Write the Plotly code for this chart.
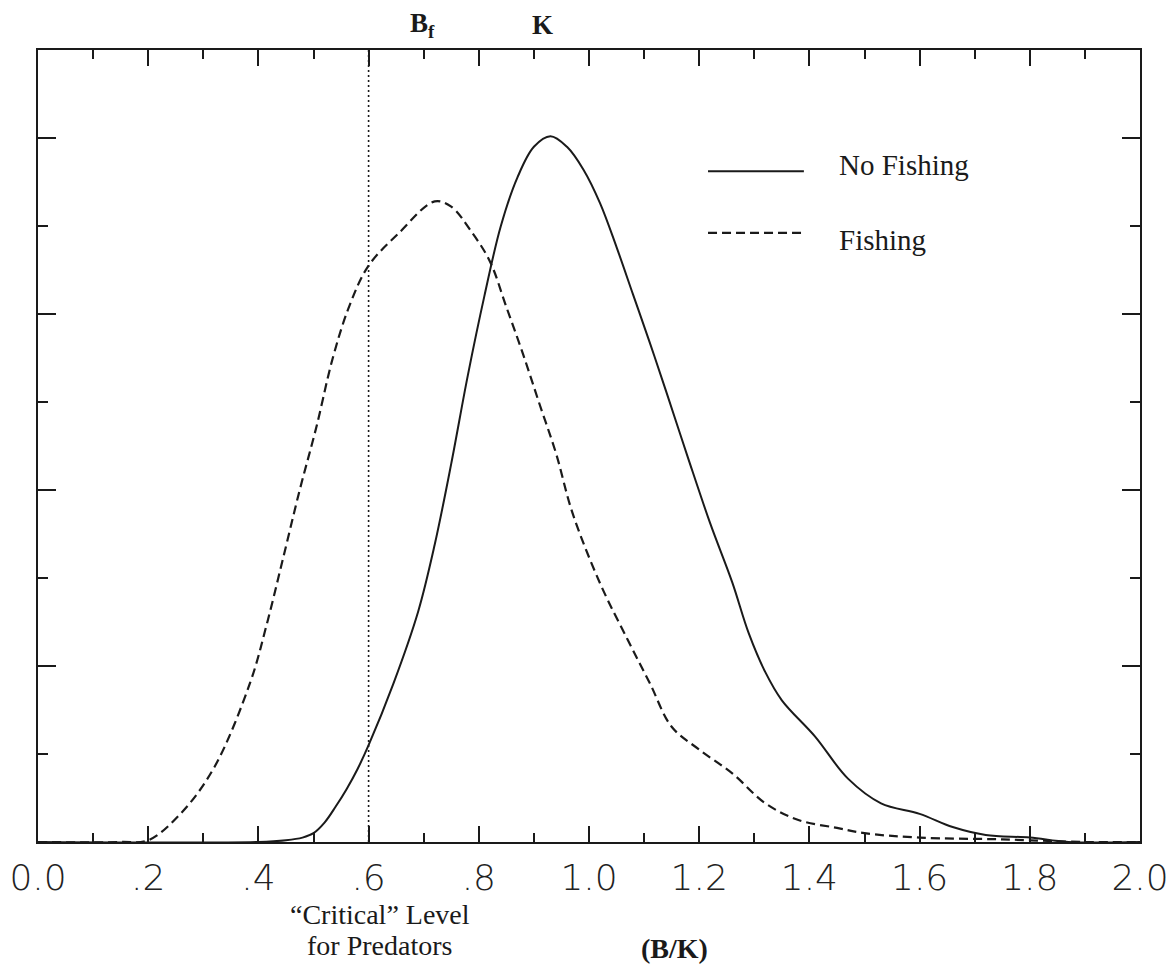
import plotly.graph_objects as go

# ---- data ----
no_fishing_x = [0.0, 0.40, 0.45, 0.48, 0.50, 0.52, 0.54, 0.56, 0.58, 0.60, 0.645, 0.69, 0.72,
                0.75, 0.78, 0.81, 0.84, 0.87, 0.90, 0.93, 0.96, 0.99, 1.02, 1.05, 1.08, 1.11,
                1.14, 1.18, 1.22, 1.26, 1.29, 1.32, 1.35, 1.41, 1.47, 1.53, 1.60, 1.66, 1.72,
                1.80, 1.87, 2.0]
no_fishing_y = [0.0, 0.0, 0.02, 0.05, 0.10, 0.22, 0.40, 0.60, 0.83, 1.10, 1.80, 2.62, 3.38,
                4.30, 5.30, 6.20, 7.00, 7.55, 7.90, 8.02, 7.90, 7.64, 7.26, 6.76, 6.22, 5.68,
                5.12, 4.36, 3.62, 2.95, 2.37, 1.93, 1.61, 1.20, 0.72, 0.44, 0.32, 0.17, 0.08,
                0.05, 0.0, 0.0]

fishing_x = [0.0, 0.15, 0.20, 0.26, 0.32, 0.385, 0.415, 0.445, 0.475, 0.505, 0.535, 0.565,
             0.60, 0.655, 0.72, 0.75, 0.785, 0.82, 0.85, 0.88, 0.91, 0.94, 0.97, 1.02, 1.07,
             1.11, 1.15, 1.20, 1.26, 1.32, 1.38, 1.45, 1.50, 1.60, 1.75, 1.90, 2.0]
fishing_y = [0.0, 0.0, 0.02, 0.33, 0.85, 1.81, 2.47, 3.23, 4.00, 4.71, 5.50, 6.09,
             6.55, 6.92, 7.28, 7.22, 6.95, 6.60, 6.08, 5.55, 4.98, 4.42, 3.74, 2.94, 2.30,
             1.81, 1.31, 1.05, 0.78, 0.44, 0.25, 0.16, 0.10, 0.05, 0.03, 0.0, 0.0]

x_tick_vals = [0.0, 0.2, 0.4, 0.6, 0.8, 1.0, 1.2, 1.4, 1.6, 1.8, 2.0]
x_tick_text = ["0.0", ".2", ".4", ".6", ".8", "1.0", "1.2", "1.4", "1.6", "1.8", "2.0"]

critical_level = 0.6
bf_pos = 0.698
k_pos = 0.916
series_names = ["No Fishing", "Fishing"]

INK = "#1a1a1a"
SERIF = "Liberation Serif, Times New Roman, serif"

fig = go.Figure()
fig.add_trace(go.Scatter(x=no_fishing_x, y=no_fishing_y, mode="lines", name=series_names[0],
                         line=dict(color=INK, width=2, shape="spline", smoothing=1.0)))
fig.add_trace(go.Scatter(x=fishing_x, y=fishing_y, mode="lines", name=series_names[1],
                         line=dict(color=INK, width=2.2, dash="9px,5px", shape="spline", smoothing=1.0)))

# critical level dotted line
fig.add_shape(type="line", xref="x", yref="paper", x0=critical_level, x1=critical_level,
              y0=0, y1=1, line=dict(color=INK, width=1.6, dash="2px,3px"))

# manual legend
fig.add_shape(type="line", xref="paper", yref="paper", x0=0.608, x1=0.695, y0=0.847, y1=0.847,
              line=dict(color=INK, width=2))
fig.add_shape(type="line", xref="paper", yref="paper", x0=0.608, x1=0.695, y0=0.769, y1=0.769,
              line=dict(color=INK, width=2.2, dash="9px,5px"))
fig.add_annotation(xref="paper", yref="paper", x=0.725, y=0.855, text=series_names[0],
                   showarrow=False, xanchor="left", yanchor="middle",
                   font=dict(family=SERIF, size=29, color=INK))
fig.add_annotation(xref="paper", yref="paper", x=0.725, y=0.760, text=series_names[1],
                   showarrow=False, xanchor="left", yanchor="middle",
                   font=dict(family=SERIF, size=29, color=INK))

# top labels
fig.add_annotation(xref="x", yref="paper", x=bf_pos, y=1.032, text="<b>B<sub>f</sub></b>",
                   showarrow=False, xanchor="center", yanchor="middle",
                   font=dict(family=SERIF, size=27, color=INK))
fig.add_annotation(xref="x", yref="paper", x=k_pos, y=1.032, text="<b>K</b>",
                   showarrow=False, xanchor="center", yanchor="middle",
                   font=dict(family=SERIF, size=27, color=INK))

# bottom labels
fig.add_annotation(xref="x", yref="paper", x=0.62, y=-0.092, text="“Critical” Level",
                   showarrow=False, xanchor="center", yanchor="middle",
                   font=dict(family=SERIF, size=28, color=INK))
fig.add_annotation(xref="x", yref="paper", x=0.62, y=-0.131, text="for Predators",
                   showarrow=False, xanchor="center", yanchor="middle",
                   font=dict(family=SERIF, size=28, color=INK))
fig.add_annotation(xref="x", yref="paper", x=1.156, y=-0.134, text="<b>(B/K)</b>",
                   showarrow=False, xanchor="center", yanchor="middle",
                   font=dict(family=SERIF, size=28, color=INK))

fig.update_xaxes(range=[0, 2], showgrid=False, zeroline=False, showline=True,
                 linecolor=INK, linewidth=1.5, mirror="allticks", automargin=False,
                 ticks="inside", ticklen=16, tickwidth=1.5, tickcolor=INK,
                 tickvals=x_tick_vals, ticktext=x_tick_text, ticklabeloverflow="allow",
                 tickfont=dict(family="DejaVu Sans, Lato, sans-serif", size=36, color="#222222", weight=200),
                 ticklabelstandoff=3,
                 minor=dict(ticks="inside", ticklen=9, tickwidth=1.5, tickcolor=INK, dtick=0.1, tick0=0))
fig.update_yaxes(range=[0, 9], showgrid=False, zeroline=False, showline=True,
                 linecolor=INK, linewidth=1.5, mirror="allticks", automargin=False,
                 ticks="inside", ticklen=18, tickwidth=1.5, tickcolor=INK,
                 dtick=2, tick0=0, showticklabels=False,
                 minor=dict(ticks="inside", ticklen=10, tickwidth=1.5, tickcolor=INK, dtick=1, tick0=0))

# page body has an 8px margin, so the figure is a bit smaller than the window
fig.update_layout(width=1160, height=956, showlegend=False,
                  margin=dict(l=30, r=28, t=42, b=122),
                  plot_bgcolor="white", paper_bgcolor="white")

fig.write_html("out.html")
